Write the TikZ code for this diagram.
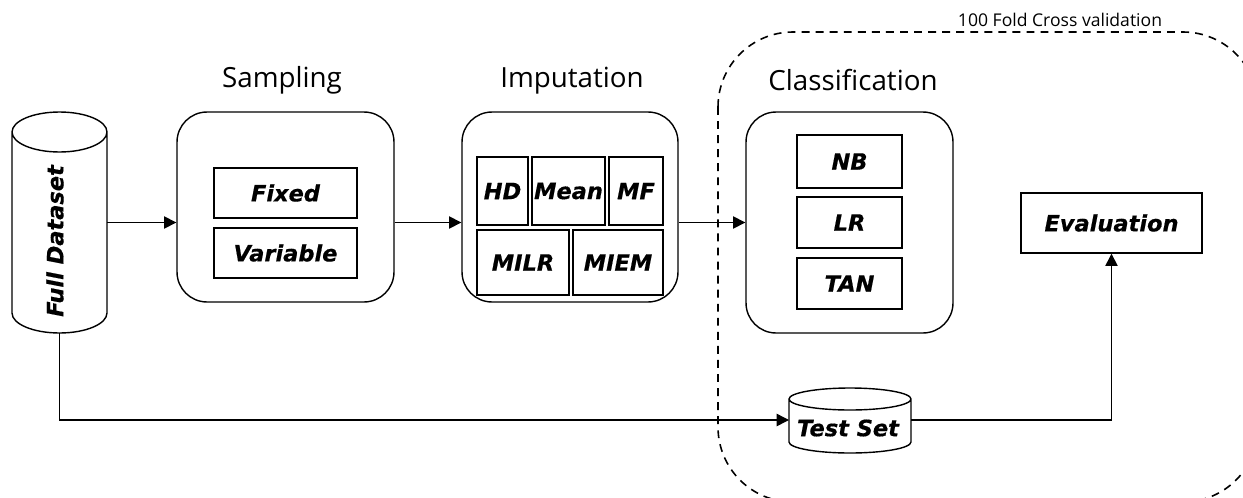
\documentclass[tikz,border=0pt]{standalone}
\usepackage{fontspec}
\setmainfont{Open Sans}
\newfontfamily\labelfont{DejaVu Sans}[BoldItalicFeatures={FakeBold=0.5}]
\usetikzlibrary{arrows.meta}

\tikzset{
  lw/.style={line width=0.8pt},
  item/.style={draw, lw, inner sep=0pt, font=\labelfont\bfseries\itshape\fontsize{12.8}{14}\selectfont},
  lbl/.style={inner sep=0pt, font=\labelfont\bfseries\itshape\fontsize{12.8}{14}\selectfont},
  panel/.style={draw, lw, rounded corners=0.6cm, inner sep=0pt},
  title/.style={anchor=base, inner sep=0pt, font=\fontsize{15.8}{18}\selectfont},
  small/.style={anchor=base, inner sep=0pt, font=\fontsize{10}{12}\selectfont},
  anchorbox/.style={inner sep=0pt, outer sep=0pt},
  arr/.style={lw, -{Triangle[length=7pt, width=7pt]}},
  frame/.style={line width=0.9pt, dash pattern=on 4.5pt off 3.5pt, rounded corners=1.5cm}
}

\begin{document}
\begin{tikzpicture}[x=0.02cm, y=-0.02cm]
\useasboundingbox (0,0) rectangle (1243,497);
\clip (0,0) rectangle (1243,497);

% cross-validation frame
\draw[frame] (718,32) rectangle (1258,502);
\node[small] (cv) at (1060,27) {100 Fold Cross validation};

% full dataset cylinder
\node[anchorbox, minimum width=1.9cm, minimum height=4.42cm] (fd) at (59.5,222.5) {};
\draw[lw] (12,132) -- (12,313)
  arc[start angle=180, end angle=360, x radius=0.95cm, y radius=0.4cm]
  -- (107,132)
  arc[start angle=0, end angle=180, x radius=0.95cm, y radius=0.4cm]
  arc[start angle=180, end angle=360, x radius=0.95cm, y radius=0.4cm];
\node[lbl, rotate=90] (fdtext) at (55,241) {Full Dataset};

% sampling
\node[title] (tsamp) at (282,87) {Sampling};
\node[panel, minimum width=4.34cm, minimum height=3.8cm] (samp) at (285.5,207) {};
\node[item, minimum width=2.86cm, minimum height=1.0cm] (fixed) at (285.5,193) {Fixed};
\node[item, minimum width=2.86cm, minimum height=1.0cm] (variable) at (285.5,253) {Variable};

% imputation
\node[title] (timp) at (572,87) {Imputation};
\node[panel, minimum width=4.32cm, minimum height=3.8cm] (imp) at (570,207) {};
\node[item, minimum width=1.02cm, minimum height=1.36cm] (hd) at (502.5,191) {HD};
\node[item, minimum width=1.46cm, minimum height=1.36cm] (mean) at (568.5,191) {Mean};
\node[item, minimum width=1.08cm, minimum height=1.36cm] (mf) at (636,191) {MF};
\node[item, minimum width=1.84cm, minimum height=1.3cm] (milr) at (523,262.5) {MILR};
\node[item, minimum width=1.8cm, minimum height=1.3cm] (miem) at (618,262.5) {MIEM};

% classification
\node[title] (tcls) at (853,90) {Classification};
\node[panel, minimum width=4.14cm, minimum height=4.42cm] (cls) at (849.5,222.5) {};
\node[item, minimum width=2.1cm, minimum height=1.06cm] (nb) at (849.5,161.5) {NB};
\node[item, minimum width=2.1cm, minimum height=1.02cm] (lr) at (849.5,222.5) {LR};
\node[item, minimum width=2.1cm, minimum height=1.02cm] (tan) at (849.5,283.5) {TAN};

% evaluation
\node[item, minimum width=3.62cm, minimum height=1.2cm] (eval) at (1111.5,223) {Evaluation};

% test set cylinder
\node[anchorbox, minimum width=2.44cm, minimum height=1.32cm] (ts) at (850,420) {};
\draw[lw] (789,399) -- (789,442)
  arc[start angle=180, end angle=360, x radius=1.22cm, y radius=0.22cm]
  -- (911,399)
  arc[start angle=0, end angle=180, x radius=1.22cm, y radius=0.22cm]
  arc[start angle=180, end angle=360, x radius=1.22cm, y radius=0.22cm];
\node[lbl] (tstext) at (848,428) {Test Set};

% flow
\draw[arr] (fd.east) -- (fd.east -| samp.west);
\draw[arr] (samp.east |- fd.east) -- (imp.west |- fd.east);
\draw[arr] (imp.east |- fd.east) -- (cls.west);
\draw[arr] (fd.south) |- (ts.west);
\draw[arr] (ts.east) -| (eval.south);
\end{tikzpicture}
\end{document}
